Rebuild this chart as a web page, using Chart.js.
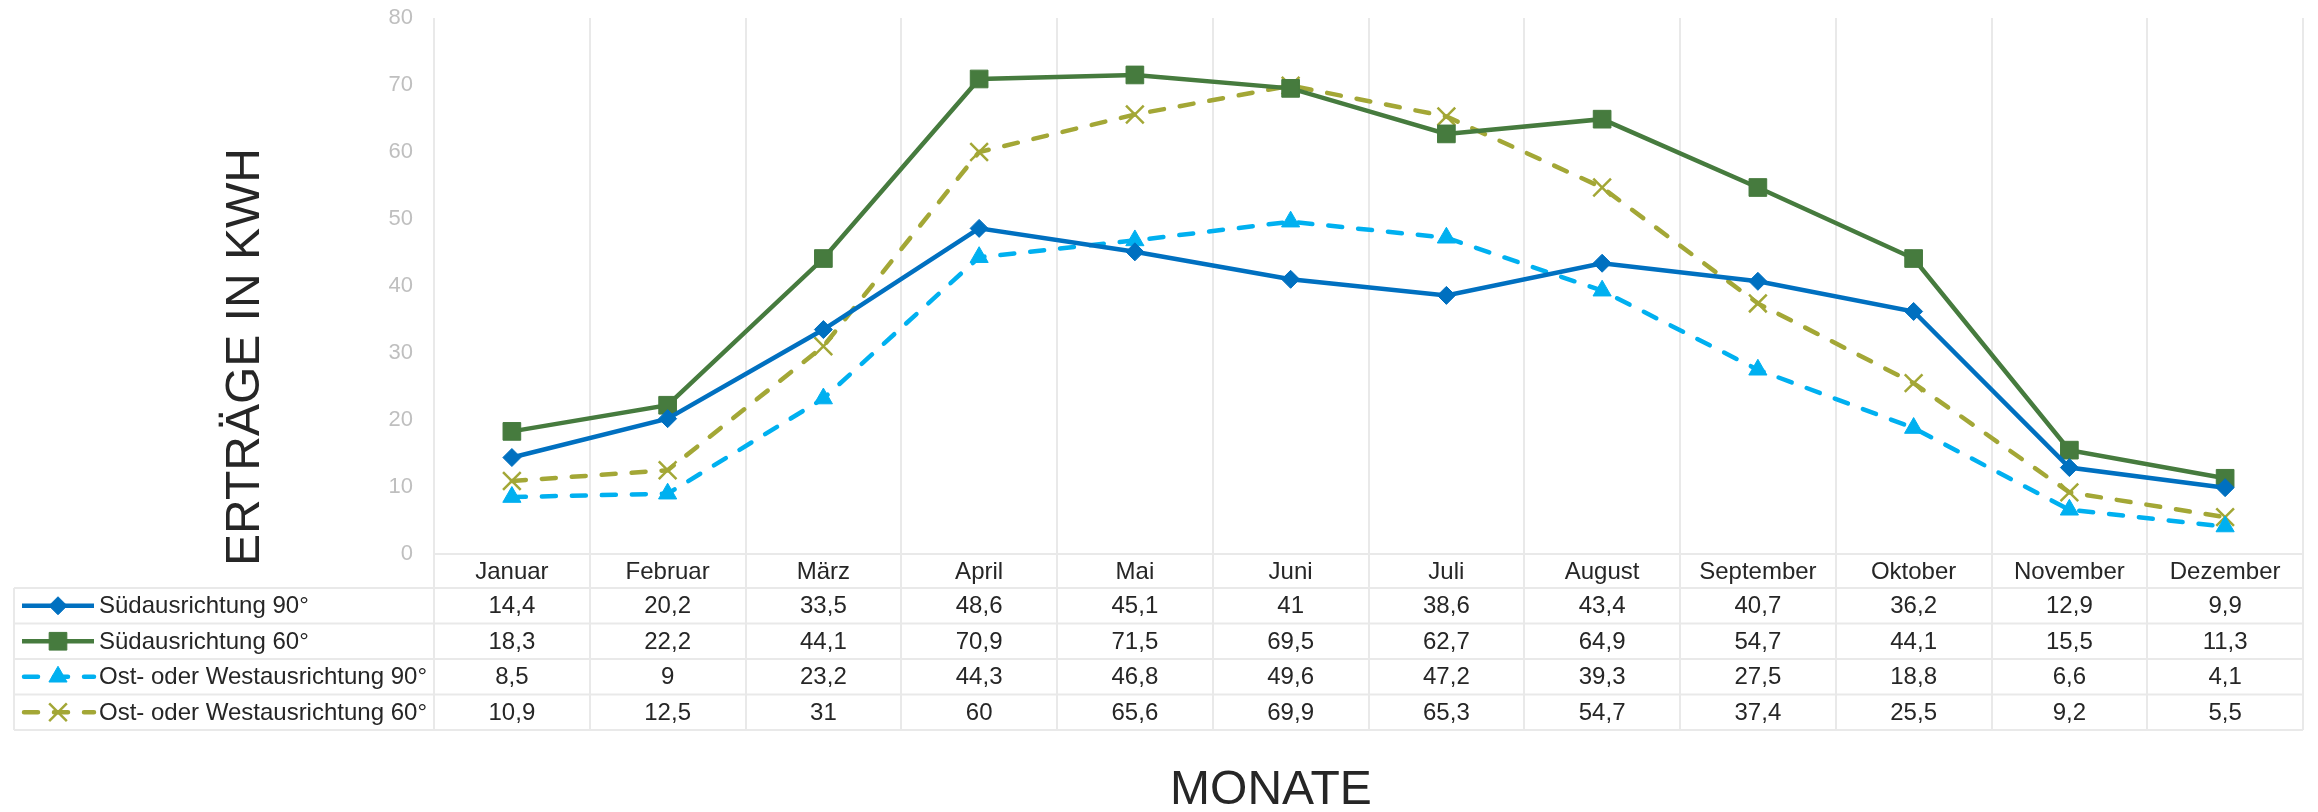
<!DOCTYPE html>
<html>
<head>
<meta charset="utf-8">
<script src="https://cdn.jsdelivr.net/npm/chart.js@4.4.1/dist/chart.umd.min.js"></script>
<style>
    html, body { margin: 0; padding: 0; background: #fff; }
</style>
</head>
<body>
<canvas id="ertragChart" width="2318" height="812"></canvas>
<script>
const months = ['Januar', 'Februar', 'März', 'April', 'Mai', 'Juni', 'Juli', 'August', 'September', 'Oktober', 'November', 'Dezember'];
const seriesNames = ['Südausrichtung 90°', 'Südausrichtung 60°', 'Ost- oder Westausrichtung 90°', 'Ost- oder Westausrichtung 60°'];
const sued90 = [14.4, 20.2, 33.5, 48.6, 45.1, 41, 38.6, 43.4, 40.7, 36.2, 12.9, 9.9];
const sued60 = [18.3, 22.2, 44.1, 70.9, 71.5, 69.5, 62.7, 64.9, 54.7, 44.1, 15.5, 11.3];
const ostWest90 = [8.5, 9, 23.2, 44.3, 46.8, 49.6, 47.2, 39.3, 27.5, 18.8, 6.6, 4.1];
const ostWest60 = [10.9, 12.5, 31, 60, 65.6, 69.9, 65.3, 54.7, 37.4, 25.5, 9.2, 5.5];
const yMin = 0, yMax = 80, yStep = 10;
const yTitle = 'ERTRÄGE IN KWH';
const xTitle = 'MONATE';

const FONT = '"Liberation Sans", Arial, sans-serif';
const TEXT = '#262626';
const GRID = '#e9e9e9';
const DASH = [14, 16];

function fmt(v) {
    return String(v).replace('.', ',');
}

function makeSeries(label, data, color, style, radius, dashed) {
    return {
        label: label,
        data: data,
        borderColor: color,
        backgroundColor: color,
        borderWidth: 4.5,
        borderDash: dashed ? DASH : [],
        borderCapStyle: dashed ? 'round' : 'butt',
        pointStyle: style,
        pointRadius: radius,
        pointHoverRadius: radius,
        pointBorderWidth: style === 'crossRot' ? 2.5 : 1,
        pointBackgroundColor: color,
        pointBorderColor: color,
        tension: 0
    };
}

// --- Data table under the plot, plus the two axis titles ---
const tablePlugin = {
    id: 'dataTable',
    afterDraw(chart) {
        const { ctx, chartArea: area, scales: { x } } = chart;
        const top = area.bottom;
        const headH = 34;
        const rowH = 35.5;
        const left = 14;
        const colW = (area.right - area.left) / months.length;
        const bottom = top + headH + rowH * seriesNames.length;

        ctx.save();
        ctx.strokeStyle = GRID;
        ctx.lineWidth = 2;
        ctx.setLineDash([]);
        const line = (x1, y1, x2, y2) => {
            ctx.beginPath();
            ctx.moveTo(x1, y1);
            ctx.lineTo(x2, y2);
            ctx.stroke();
        };
        line(area.left, top, area.right, top);
        for (let i = 0; i <= seriesNames.length; i++) {
            const y = top + headH + i * rowH;
            line(left, y, area.right, y);
        }
        for (let i = 0; i <= months.length; i++) {
            const xx = Math.round(area.left + i * colW);
            line(xx, top, xx, bottom);
        }
        line(left, top + headH, left, bottom);

        // month header
        ctx.fillStyle = TEXT;
        ctx.font = '24px ' + FONT;
        ctx.textAlign = 'center';
        ctx.textBaseline = 'middle';
        months.forEach((m, i) => {
            ctx.fillText(m, x.getPixelForValue(i), top + headH / 2 + 1);
        });

        // rows
        chart.data.datasets.forEach((ds, r) => {
            const cy = top + headH + r * rowH + rowH / 2 + 1;
            ds.data.forEach((v, i) => {
                ctx.textAlign = 'center';
                ctx.fillText(fmt(v), x.getPixelForValue(i), cy);
            });
            ctx.textAlign = 'left';
            ctx.fillText(ds.label, 99, cy);

            // legend key
            ctx.save();
            ctx.strokeStyle = ds.borderColor;
            ctx.lineWidth = ds.borderWidth;
            ctx.lineCap = ds.borderCapStyle;
            ctx.setLineDash(ds.borderDash);
            const ky = cy - 1;
            line(ds.borderDash.length ? 24 : 22, ky, 94, ky);
            ctx.restore();
            ctx.save();
            ctx.setLineDash([]);
            ctx.fillStyle = ds.pointBackgroundColor;
            ctx.strokeStyle = ds.pointBorderColor;
            ctx.lineWidth = ds.pointBorderWidth;
            Chart.helpers.drawPoint(ctx, {
                pointStyle: ds.pointStyle,
                radius: ds.pointRadius,
                rotation: 0,
                borderWidth: ds.pointBorderWidth
            }, 58, ky);
            ctx.restore();
        });

        // axis titles
        ctx.fillStyle = TEXT;
        ctx.font = '48px ' + FONT;
        ctx.textAlign = 'center';
        ctx.textBaseline = 'middle';
        ctx.fillText(xTitle, 1271, 791);
        ctx.translate(246, 357);
        ctx.rotate(-Math.PI / 2);
        ctx.fillText(yTitle, 0, 0);
        ctx.restore();
    }
};

const ctx = document.getElementById('ertragChart').getContext('2d');
new Chart(ctx, {
    type: 'line',
    data: {
        labels: months,
        datasets: [
            makeSeries(seriesNames[0], sued90, '#0070c0', 'rectRot', 9, false),
            makeSeries(seriesNames[1], sued60, '#467b3e', 'rect', 12.5, false),
            makeSeries(seriesNames[2], ostWest90, '#00b0f0', 'triangle', 10.5, true),
            makeSeries(seriesNames[3], ostWest60, '#a3a736', 'crossRot', 12.5, true)
        ]
    },
    options: {
        responsive: false,
        animation: false,
        layout: { padding: { top: 18, left: 0, right: 4, bottom: 258 } },
        plugins: {
            legend: { display: false },
            tooltip: { enabled: false }
        },
        scales: {
            x: {
                offset: true,
                grid: { display: true, offset: true, color: GRID, lineWidth: 2, drawTicks: false },
                border: { display: false },
                ticks: { display: false }
            },
            y: {
                min: yMin,
                max: yMax,
                afterFit: (scale) => {
                    scale.width = 434;
                    scale.paddingTop = 0;
                    scale.paddingBottom = 0;
                },
                grid: { display: false, drawTicks: false },
                border: { display: false },
                ticks: {
                    stepSize: yStep,
                    padding: 21,
                    color: '#bfbfbf',
                    font: { family: FONT, size: 22 }
                }
            }
        }
    },
    plugins: [tablePlugin]
});
</script>
</body>
</html>
